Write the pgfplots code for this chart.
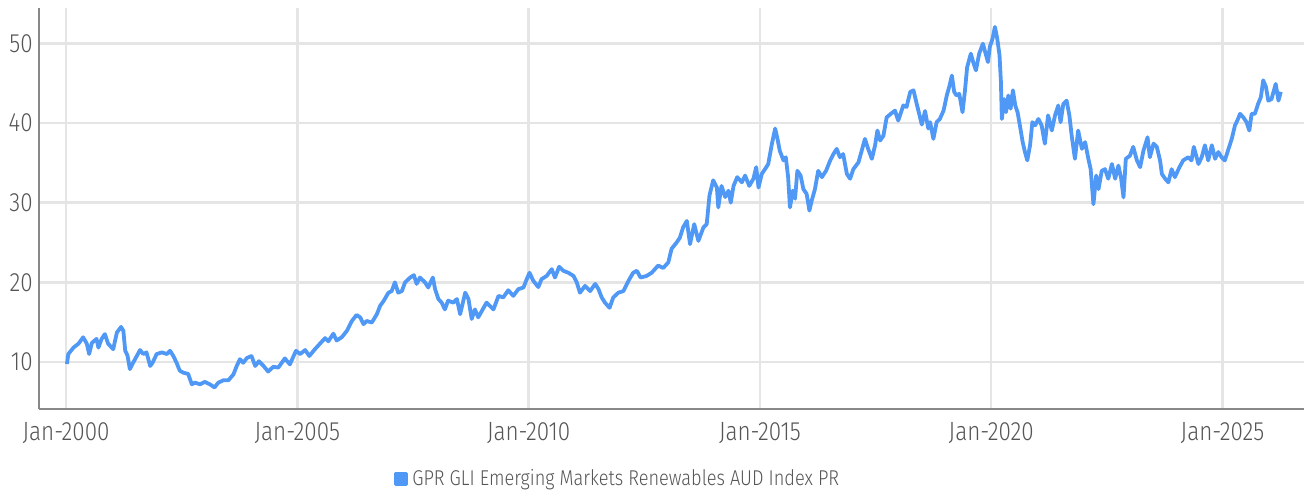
\documentclass[border=0pt]{standalone}
\usepackage{pgfplots}
\pgfplotsset{compat=1.18}
\usepackage{fontspec}
\setmainfont{Fira Sans}[UprightFont=* Light, FakeStretch=0.85]
\definecolor{lineblue}{RGB}{80,152,245}
\definecolor{gridgray}{RGB}{229,229,229}
\definecolor{axisgray}{RGB}{136,136,136}
\definecolor{textgray}{RGB}{85,85,85}
\begin{document}
\begin{tikzpicture}
\begin{axis}[
  scale only axis,
  width=632.5pt, height=200.5pt,
  xmin=1999.416, xmax=2026.762,
  ymin=4.1, ymax=54.43,
  axis x line*=bottom, axis y line*=left,
  axis line style={axisgray, line width=0.9pt, -},
  xtick={2000,2005,2010,2015,2020,2025},
  xticklabels={Jan-2000,Jan-2005,Jan-2010,Jan-2015,Jan-2020,Jan-2025},
  ytick={10,20,30,40,50},
  major tick length=0pt,
  grid=major,
  major grid style={gridgray, line width=1.25pt},
  /pgf/number format/assume math mode=true,
  tick label style={font=\fontsize{13.2}{15}\selectfont, text=textgray},
  xticklabel style={inner sep=0pt, anchor=north, yshift=-6.3pt},
  yticklabel style={inner sep=0pt, anchor=east, xshift=-3pt},
  legend style={at={(0.458,0)}, anchor=center, yshift=-35pt, draw=none, fill=none,
    font=\fontsize{10.7}{13}\selectfont, text=textgray, inner sep=0pt},
  legend image code/.code={\fill[lineblue] (0pt,-2.75pt) rectangle (5.5pt,2.75pt);},
  legend cell align=left,
  every axis plot/.append style={line join=round},
]
\addplot[lineblue, line width=1.9pt] table {
2000.02 9.75
2000.05 11.0
2000.16 11.8
2000.27 12.3
2000.37 13.1
2000.45 12.3
2000.50 11.0
2000.56 12.4
2000.66 12.9
2000.70 11.8
2000.77 12.9
2000.84 13.5
2000.91 12.3
2001.02 11.6
2001.10 13.7
2001.19 14.4
2001.24 13.9
2001.28 11.4
2001.33 10.8
2001.38 9.1
2001.45 9.9
2001.53 10.75
2001.60 11.5
2001.67 11.0
2001.74 11.2
2001.82 9.5
2001.87 9.9
2001.96 11.0
2002.07 11.2
2002.18 11.0
2002.25 11.4
2002.32 10.75
2002.39 9.9
2002.46 8.9
2002.54 8.65
2002.64 8.5
2002.72 7.2
2002.79 7.4
2002.90 7.2
2003.00 7.5
2003.11 7.2
2003.21 6.8
2003.29 7.4
2003.40 7.7
2003.51 7.7
2003.62 8.45
2003.69 9.5
2003.76 10.35
2003.83 9.9
2003.91 10.5
2004.01 10.75
2004.09 9.5
2004.17 10.1
2004.27 9.5
2004.37 8.8
2004.48 9.4
2004.59 9.3
2004.73 10.45
2004.84 9.7
2004.97 11.4
2005.06 11.0
2005.17 11.5
2005.26 10.75
2005.38 11.6
2005.49 12.3
2005.60 13.0
2005.67 12.6
2005.78 13.55
2005.85 12.7
2005.96 13.1
2006.07 13.9
2006.18 15.15
2006.28 15.9
2006.36 15.6
2006.43 14.75
2006.50 15.15
2006.61 14.95
2006.72 16.0
2006.79 17.05
2006.87 17.7
2006.97 18.7
2007.04 18.9
2007.11 20.0
2007.18 18.7
2007.26 18.9
2007.33 20.0
2007.44 20.6
2007.52 20.9
2007.58 19.8
2007.65 20.6
2007.76 20.0
2007.83 19.35
2007.93 20.6
2007.98 19.1
2008.05 17.9
2008.12 17.45
2008.19 16.6
2008.26 17.7
2008.37 17.45
2008.45 17.9
2008.52 16.0
2008.63 18.7
2008.70 17.9
2008.77 15.4
2008.84 16.6
2008.91 15.6
2008.95 16.0
2009.09 17.45
2009.24 16.6
2009.35 18.3
2009.45 18.1
2009.56 19.0
2009.67 18.3
2009.78 19.15
2009.89 19.35
2009.96 20.4
2010.02 21.2
2010.10 20.2
2010.21 19.4
2010.28 20.4
2010.39 20.8
2010.50 21.65
2010.57 20.6
2010.66 21.95
2010.75 21.45
2010.86 21.2
2010.97 20.8
2011.04 20.0
2011.11 18.7
2011.22 19.55
2011.33 18.9
2011.44 19.8
2011.51 19.15
2011.58 18.1
2011.65 17.45
2011.75 16.8
2011.83 18.1
2011.94 18.7
2012.05 18.9
2012.16 20.2
2012.26 21.2
2012.34 21.45
2012.42 20.6
2012.55 20.8
2012.66 21.2
2012.73 21.65
2012.80 22.1
2012.91 21.8
2013.02 22.5
2013.09 24.2
2013.20 25.0
2013.27 25.6
2013.34 26.9
2013.42 27.7
2013.49 24.8
2013.58 27.3
2013.67 25.2
2013.78 26.9
2013.85 27.3
2013.91 30.9
2013.99 32.8
2014.07 31.9
2014.10 29.4
2014.17 32.1
2014.25 30.7
2014.32 31.5
2014.37 30.0
2014.43 32.1
2014.51 33.2
2014.61 32.55
2014.68 33.4
2014.77 32.1
2014.86 33.0
2014.92 34.45
2014.97 31.9
2015.04 33.6
2015.11 34.2
2015.18 34.85
2015.26 37.4
2015.33 39.3
2015.38 38.0
2015.43 36.5
2015.51 35.3
2015.56 35.7
2015.61 33.2
2015.65 29.4
2015.71 31.5
2015.76 30.5
2015.81 34.0
2015.88 33.4
2015.94 31.7
2016.01 31.1
2016.07 29.0
2016.12 30.25
2016.19 31.7
2016.26 34.0
2016.34 33.2
2016.43 34.0
2016.52 35.3
2016.59 36.1
2016.66 36.75
2016.73 35.7
2016.80 36.1
2016.88 33.6
2016.95 33.0
2017.02 34.2
2017.13 35.05
2017.20 36.5
2017.27 38.0
2017.34 36.75
2017.42 35.5
2017.49 37.2
2017.54 39.05
2017.60 37.8
2017.67 38.4
2017.74 40.7
2017.83 41.15
2017.92 41.55
2017.99 40.3
2018.10 42.2
2018.17 42.0
2018.25 43.9
2018.32 44.1
2018.39 42.4
2018.50 39.8
2018.57 41.5
2018.64 39.3
2018.68 40.1
2018.75 38.0
2018.82 40.1
2018.89 40.5
2018.97 41.55
2019.04 43.45
2019.10 44.7
2019.15 45.95
2019.20 43.9
2019.25 43.45
2019.31 43.65
2019.38 41.35
2019.43 43.9
2019.48 47.0
2019.56 48.7
2019.61 47.65
2019.67 46.6
2019.74 48.7
2019.82 49.95
2019.87 48.9
2019.93 47.65
2019.97 49.55
2020.03 50.6
2020.08 52.05
2020.13 50.6
2020.18 48.5
2020.21 45.15
2020.23 40.5
2020.28 43.0
2020.32 41.35
2020.37 43.45
2020.42 41.8
2020.47 44.1
2020.52 42.2
2020.57 41.35
2020.62 39.7
2020.68 37.6
2020.73 36.35
2020.78 35.3
2020.84 37.2
2020.89 40.1
2020.95 39.7
2021.02 40.5
2021.09 39.7
2021.16 37.4
2021.23 40.95
2021.31 39.05
2021.38 40.95
2021.45 42.2
2021.50 40.1
2021.56 42.4
2021.63 42.8
2021.69 40.95
2021.74 38.4
2021.81 35.5
2021.88 39.05
2021.96 36.75
2022.03 37.6
2022.10 35.5
2022.15 34.2
2022.21 29.8
2022.27 33.4
2022.32 31.7
2022.39 34.0
2022.46 34.2
2022.53 33.0
2022.61 34.85
2022.68 33.0
2022.75 34.65
2022.81 33.0
2022.86 30.65
2022.91 35.5
2023.00 35.9
2023.07 37.0
2023.15 35.3
2023.22 34.45
2023.29 36.5
2023.38 38.2
2023.43 35.7
2023.51 37.4
2023.58 37.0
2023.65 35.3
2023.69 33.6
2023.76 33.0
2023.83 32.55
2023.90 34.2
2023.97 33.2
2024.07 34.45
2024.15 35.3
2024.26 35.7
2024.33 35.3
2024.38 37.0
2024.48 34.85
2024.55 35.7
2024.62 37.2
2024.69 35.3
2024.77 37.2
2024.84 35.5
2024.91 36.35
2024.98 35.7
2025.05 35.3
2025.13 36.75
2025.20 38.0
2025.27 39.7
2025.32 40.3
2025.38 41.15
2025.45 40.7
2025.52 40.1
2025.58 39.05
2025.63 41.15
2025.70 41.15
2025.77 42.4
2025.83 43.25
2025.88 45.35
2025.94 44.5
2025.99 42.8
2026.06 43.0
2026.15 44.9
2026.21 42.8
2026.26 43.9
};
\addlegendentry{GPR GLI Emerging Markets Renewables AUD Index PR}
\coordinate (sw) at (rel axis cs:0,0);
\coordinate (ne) at (rel axis cs:1,1);
\end{axis}
\pgfresetboundingbox
\path (sw) ++(-19.5pt,-42pt) coordinate (bbl);
\path (ne) ++(0pt,4pt) coordinate (bbr);
\path (bbl) rectangle (bbr);
\end{tikzpicture}
\end{document}
